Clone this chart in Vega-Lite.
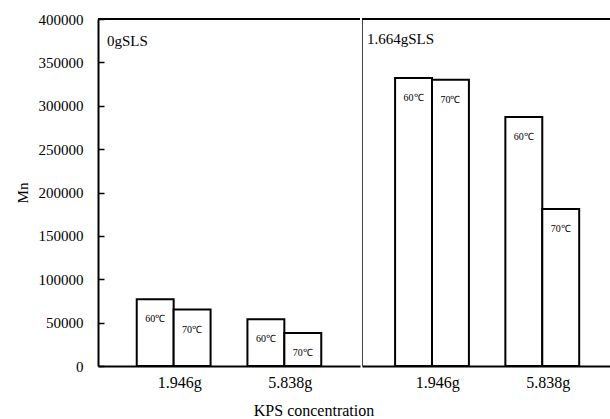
{
  "$schema": "https://vega.github.io/schema/vega-lite/v6.json",
  "autosize": {"type": "pad"},
  "padding": {"left": 15, "top": 12, "right": 0, "bottom": 0},
  "background": "white",
  "config": {
    "font": "Liberation Serif",
    "view": {"stroke": null},
    "concat": {"spacing": 0},
    "axis": {"grid": false, "labelColor": "black", "titleColor": "black", "domainColor": "black", "tickColor": "black"}
  },
  "data": {
    "values": [
      {"sls": "0gSLS", "kps": "1.946g", "temp": "60℃", "mn": 77000},
      {"sls": "0gSLS", "kps": "1.946g", "temp": "70℃", "mn": 65000},
      {"sls": "0gSLS", "kps": "5.838g", "temp": "60℃", "mn": 54000},
      {"sls": "0gSLS", "kps": "5.838g", "temp": "70℃", "mn": 38000},
      {"sls": "1.664gSLS", "kps": "1.946g", "temp": "60℃", "mn": 332000},
      {"sls": "1.664gSLS", "kps": "1.946g", "temp": "70℃", "mn": 330000},
      {"sls": "1.664gSLS", "kps": "5.838g", "temp": "60℃", "mn": 287000},
      {"sls": "1.664gSLS", "kps": "5.838g", "temp": "70℃", "mn": 181000}
    ]
  },
  "title": {
    "text": "KPS concentration",
    "orient": "bottom",
    "anchor": "middle",
    "baseline": "alphabetic",
    "offset": 26,
    "fontSize": 16,
    "fontWeight": "normal",
    "color": "black"
  },
  "spacing": 0,
  "hconcat": [
    {
      "width": 262,
      "height": 347,
      "title": {"text": "0gSLS", "anchor": "start", "orient": "top", "frame": "group", "baseline": "alphabetic", "offset": -49, "dx": 9, "fontSize": 15, "fontWeight": "normal", "color": "black"},
      "transform": [{"filter": "datum.sls === '0gSLS'"}],
      "layer": [
        {
          "mark": {"type": "bar", "fill": "white", "stroke": "black", "strokeWidth": 2},
          "encoding": {
            "x": {
              "field": "kps", "type": "nominal",
              "scale": {"paddingInner": 0.333, "paddingOuter": 0.35},
              "axis": {"title": null, "ticks": false, "tickSize": 0, "labelAngle": 0, "labelFontSize": 16, "labelPadding": 8, "labelOffset": 6, "domainWidth": 2}
            },
            "xOffset": {"field": "temp", "type": "nominal", "scale": {"paddingInner": 0, "paddingOuter": 0}},
            "y": {
              "field": "mn", "type": "quantitative",
              "scale": {"domain": [0, 400000], "nice": false},
              "axis": {
                "title": "Mn", "titleFontSize": 15, "titleFontWeight": "normal", "titlePadding": 8,
                "values": [0, 50000, 100000, 150000, 200000, 250000, 300000, 350000, 400000],
                "format": "d", "labelFontSize": 15, "tickSize": -6, "tickWidth": 1.5, "labelPadding": 21, "domainWidth": 2
              }
            }
          }
        },
        {
          "mark": {"type": "text", "dy": 20, "fontSize": 10, "baseline": "middle", "color": "black"},
          "encoding": {
            "x": {"field": "kps", "type": "nominal"},
            "xOffset": {"field": "temp", "type": "nominal"},
            "y": {"field": "mn", "type": "quantitative"},
            "text": {"field": "temp"}
          }
        },
        {
          "mark": {"type": "rule", "strokeWidth": 2, "color": "black"},
          "encoding": {"y": {"datum": 400000}}
        }
      ]
    },
    {
      "width": 250,
      "height": 347,
      "title": {"text": "1.664gSLS", "anchor": "start", "orient": "top", "frame": "group", "baseline": "alphabetic", "offset": -41, "dx": 5, "fontSize": 15, "fontWeight": "normal", "color": "black"},
      "transform": [{"filter": "datum.sls === '1.664gSLS'"}],
      "layer": [
        {
          "mark": {"type": "bar", "fill": "white", "stroke": "black", "strokeWidth": 2},
          "encoding": {
            "x": {
              "field": "kps", "type": "nominal",
              "scale": {"paddingInner": 0.333, "paddingOuter": 0.3},
              "axis": {"title": null, "ticks": false, "tickSize": 0, "labelAngle": 0, "labelFontSize": 16, "labelPadding": 8, "labelOffset": 6, "domainWidth": 2}
            },
            "xOffset": {"field": "temp", "type": "nominal", "scale": {"paddingInner": 0, "paddingOuter": 0}},
            "y": {
              "field": "mn", "type": "quantitative",
              "scale": {"domain": [0, 400000], "nice": false},
              "axis": {"title": null, "labels": false, "ticks": false, "domainWidth": 1, "domainColor": "#444"}
            }
          }
        },
        {
          "mark": {"type": "text", "dy": 20, "fontSize": 10, "baseline": "middle", "color": "black"},
          "encoding": {
            "x": {"field": "kps", "type": "nominal"},
            "xOffset": {"field": "temp", "type": "nominal"},
            "y": {"field": "mn", "type": "quantitative"},
            "text": {"field": "temp"}
          }
        },
        {
          "mark": {"type": "rule", "strokeWidth": 2, "color": "black"},
          "encoding": {"y": {"datum": 400000}}
        }
      ]
    }
  ]
}
